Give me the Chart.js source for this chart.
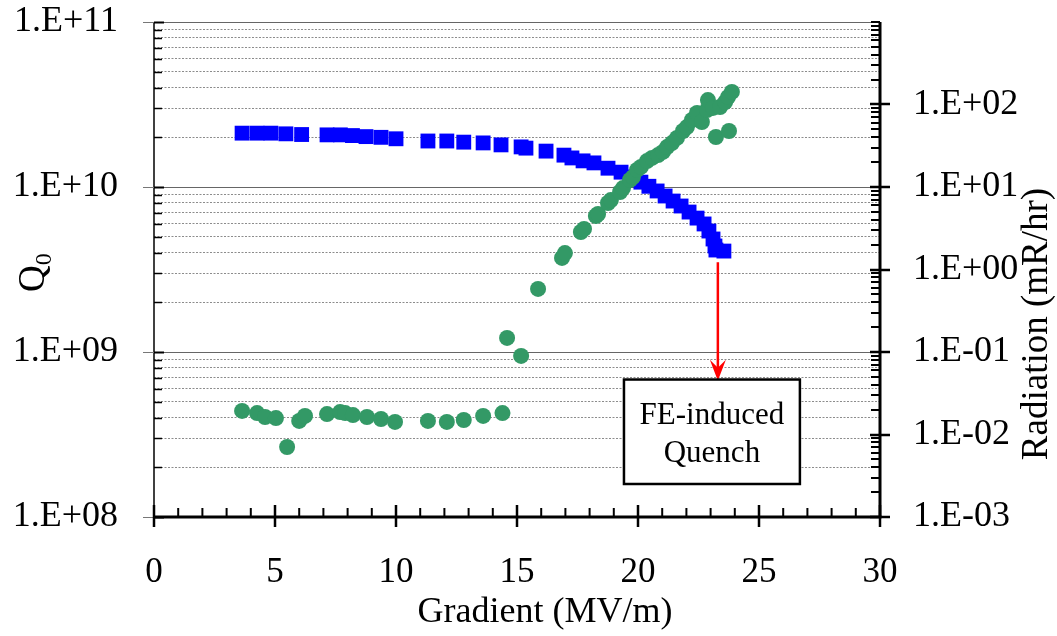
<!DOCTYPE html>
<html>
<head>
<meta charset="utf-8">
<script src="https://cdn.jsdelivr.net/npm/chart.js@4.4.1/dist/chart.umd.min.js"></script>
<style>
  html, body { margin: 0; padding: 0; background: #ffffff; }
  canvas { display: block; }
</style>
</head>
<body>
<canvas id="chart" width="1057" height="636"></canvas>
<script>
const SERIF = '"Liberation Serif", "Times New Roman", Times, serif';

// Unloaded quality factor versus accelerating gradient (MV/m)
const qGradient = [3.64, 4.26, 4.83, 5.45, 6.10, 7.15, 7.70, 8.20, 8.76, 9.38, 10.00,
  11.32, 12.10, 12.80, 13.60, 14.34, 15.17, 15.37, 16.20, 16.94, 17.27, 17.73, 18.18, 18.76,
  19.30, 19.71, 20.12, 20.45, 20.79, 21.12, 21.45, 21.78, 22.11, 22.44, 22.73, 22.93,
  23.10, 23.18, 23.22, 23.55];
const qValues = [2.12e10, 2.12e10, 2.12e10, 2.10e10, 2.08e10, 2.07e10, 2.07e10, 2.05e10, 2.02e10, 2.00e10, 1.96e10,
  1.90e10, 1.90e10, 1.87e10, 1.85e10, 1.80e10, 1.75e10, 1.72e10, 1.65e10, 1.56e10, 1.50e10, 1.44e10, 1.40e10, 1.30e10,
  1.23e10, 1.15e10, 1.07e10, 1.01e10, 9.46e9, 8.82e9, 8.22e9, 7.67e9, 7.05e9, 6.48e9, 5.97e9, 5.41e9,
  4.84e9, 4.39e9, 4.15e9, 4.09e9];

// X-ray radiation (mR/hr) versus accelerating gradient (MV/m)
const radGradient = [3.64, 4.26, 4.59, 5.04, 5.50, 6.00, 6.24, 7.15, 7.69, 7.90, 8.22, 8.80, 9.38, 9.96,
  11.32, 12.10, 12.80, 13.60, 14.40,
  14.59, 15.17, 15.87, 16.86, 16.98, 17.64, 17.77, 18.26, 18.35, 18.76, 18.88, 19.26, 19.38,
  19.67, 19.79, 19.96, 20.12, 20.37, 20.58, 20.83, 21.03, 21.20, 21.40, 21.61, 21.86, 22.02,
  22.23, 22.44, 22.64, 22.85, 22.89, 23.10, 23.22, 23.39, 23.60, 23.72, 23.76, 23.88];
const radValues = [0.0193, 0.0182, 0.0163, 0.0158, 0.00705, 0.0146, 0.0168, 0.0177, 0.0187, 0.0182, 0.0172, 0.0163, 0.0154, 0.0142,
  0.0146, 0.0142, 0.0150, 0.0168, 0.0182,
  0.148, 0.0896, 0.581, 1.38, 1.58, 2.85, 3.10, 4.45, 4.71, 6.40, 6.95, 8.7, 9.7,
  12.2, 13.2, 16.1, 17.5, 20.6, 22.5, 24.4, 26.6, 30.5, 34.1, 39.3, 47.7, 53.3,
  64.9, 78.9, 61.4, 85.7, 113, 90.8, 40.4, 93.3, 107, 123, 47.7, 142];

// Axis ticks
const gradientTicks = [0, 5, 10, 15, 20, 25, 30];
const qDecades = [8, 9, 10, 11];          // Q0 axis: 1E+08 .. 1E+11
const radDecades = [-3, -2, -1, 0, 1, 2]; // labelled radiation decades
const radRange = [-3, 3];                 // radiation axis spans 1E-03 .. 1E+03

// Callout for the field-emission quench
const calloutLines = ['FE-induced', 'Quench'];
const callout = {
  arrowX: 23.3, arrowFromQ: 3.5e9, arrowToQ: 6.7e8,
  boxX: [19.42, 26.69], boxQ: [6.81e8, 1.585e8]
};

const decadeLabel = (e) => '1.E' + (e < 0 ? '-' : '+') + String(Math.abs(e)).padStart(2, '0');
const exponentOf = (v) => {
  const e = Math.log10(v);
  return Math.abs(e - Math.round(e)) < 1e-9 ? Math.round(e) : null;
};
const logTicks = (lo, hi) => {
  const ticks = [];
  for (let e = lo; e < hi; e++) {
    for (let m = 1; m <= 9; m++) {
      ticks.push({ value: m * Math.pow(10, e), major: m === 1 });
    }
  }
  ticks.push({ value: Math.pow(10, hi), major: true });
  return ticks;
};

function line(ctx, x1, y1, x2, y2, w, color) {
  ctx.beginPath();
  ctx.lineWidth = w;
  ctx.strokeStyle = color;
  ctx.moveTo(x1, y1);
  ctx.lineTo(x2, y2);
  ctx.stroke();
}

// Fixed axis footprints so the plot area sits at 154..880 x 22..517
const fixVertical = (w) => (s) => { s.width = w; s.paddingTop = 0; s.paddingBottom = 0; };
const fixHorizontal = (h) => (s) => { s.height = h; s.paddingLeft = 0; s.paddingRight = 0; };

// Axis lines, inner/outer tick marks, axis titles and the quench callout
const decorations = {
  id: 'decorations',
  afterDraw(chart) {
    const ctx = chart.ctx;
    const ca = chart.chartArea;
    const sx = chart.scales.x, sq = chart.scales.yq, sr = chart.scales.yr;
    ctx.save();
    ctx.lineCap = 'butt';

    // left Q0 axis
    line(ctx, ca.left, ca.top, ca.left, ca.bottom, 1.5, '#000');
    sq.ticks.forEach(t => {
      const py = Math.round(sq.getPixelForValue(t.value)) + 0.5;
      if (exponentOf(t.value) !== null) {
        line(ctx, ca.left - 11, py, ca.left, py, 1, '#777');
        line(ctx, ca.left, py, ca.left + 10, py, 2, '#000');
      } else {
        line(ctx, ca.left, py, ca.left + 8, py, 1.5, '#000');
      }
    });

    // right radiation axis
    line(ctx, ca.right, ca.top, ca.right, ca.bottom, 3, '#000');
    sr.ticks.forEach(t => {
      const py = Math.round(sr.getPixelForValue(t.value));
      const e = exponentOf(t.value);
      if (e !== null && radDecades.includes(e)) {
        line(ctx, ca.right - 10, py, ca.right + 10, py, 2.5, '#000');
      } else {
        line(ctx, ca.right - 9, py, ca.right, py, 2, '#000');
      }
    });

    // bottom gradient axis
    line(ctx, ca.left, ca.bottom, ca.right + 1.5, ca.bottom, 3, '#000');
    sx.ticks.forEach(t => {
      const px = sx.getPixelForValue(t.value);
      if (gradientTicks.includes(t.value)) {
        line(ctx, px, ca.bottom - 12, px, ca.bottom + 10, 2.5, '#000');
      } else {
        line(ctx, px, ca.bottom - 9, px, ca.bottom, 2, '#000');
      }
    });

    // axis titles
    ctx.fillStyle = '#000';
    ctx.font = '36px ' + SERIF;
    ctx.textAlign = 'center';
    ctx.textBaseline = 'alphabetic';
    ctx.fillText('Gradient (MV/m)', 545, 622);

    ctx.save();
    ctx.translate(1047, 324);
    ctx.rotate(-Math.PI / 2);
    ctx.font = '37px ' + SERIF;
    ctx.fillText('Radiation (mR/hr)', 0, 0);
    ctx.restore();

    ctx.save();
    ctx.translate(44, 292);
    ctx.rotate(-Math.PI / 2);
    ctx.textAlign = 'left';
    ctx.font = '37px ' + SERIF;
    ctx.fillText('Q', 0, 0);
    const qw = ctx.measureText('Q').width;
    ctx.font = '24px ' + SERIF;
    ctx.fillText('0', qw, 7);
    ctx.restore();

    // quench callout: arrow
    const ax = sx.getPixelForValue(callout.arrowX);
    const ay1 = sq.getPixelForValue(callout.arrowFromQ);
    const ay2 = sq.getPixelForValue(callout.arrowToQ);
    line(ctx, ax, ay1, ax, ay2 - 10, 2.5, '#ff0000');
    ctx.beginPath();
    ctx.fillStyle = '#ff0000';
    ctx.moveTo(ax, ay2);
    ctx.lineTo(ax - 8, ay2 - 21);
    ctx.lineTo(ax, ay2 - 13);
    ctx.lineTo(ax + 8, ay2 - 21);
    ctx.closePath();
    ctx.fill();

    // quench callout: box and text
    const bx1 = sx.getPixelForValue(callout.boxX[0]);
    const bx2 = sx.getPixelForValue(callout.boxX[1]);
    const by1 = sq.getPixelForValue(callout.boxQ[0]);
    const by2 = sq.getPixelForValue(callout.boxQ[1]);
    ctx.fillStyle = '#fff';
    ctx.fillRect(bx1, by1, bx2 - bx1, by2 - by1);
    ctx.lineWidth = 2.5;
    ctx.strokeStyle = '#000';
    ctx.strokeRect(bx1, by1, bx2 - bx1, by2 - by1);
    ctx.fillStyle = '#000';
    ctx.font = '31px ' + SERIF;
    ctx.textAlign = 'center';
    const cx = (bx1 + bx2) / 2;
    ctx.fillText(calloutLines[0], cx, by1 + 44);
    ctx.fillText(calloutLines[1], cx, by1 + 82);

    ctx.restore();
  }
};

new Chart(document.getElementById('chart'), {
  type: 'scatter',
  data: {
    datasets: [
      {
        label: 'Radiation',
        yAxisID: 'yr',
        order: 0,
        data: radGradient.map((g, i) => ({ x: g, y: radValues[i] })),
        pointStyle: 'circle',
        pointRadius: 8,
        pointBorderWidth: 0,
        backgroundColor: '#339966',
        borderColor: '#339966'
      },
      {
        label: 'Q0',
        yAxisID: 'yq',
        order: 1,
        data: qGradient.map((g, i) => ({ x: g, y: qValues[i] })),
        pointStyle: 'rect',
        pointRadius: 10.5,
        pointBorderWidth: 0,
        backgroundColor: '#0000ff',
        borderColor: '#0000ff'
      }
    ]
  },
  options: {
    responsive: false,
    animation: false,
    devicePixelRatio: 1,
    layout: { padding: { top: 22, left: 0, right: 0, bottom: 0 } },
    plugins: { legend: { display: false }, tooltip: { enabled: false } },
    scales: {
      x: {
        type: 'linear',
        min: 0, max: 30,
        afterFit: fixHorizontal(119),
        grid: { display: false, drawTicks: false },
        border: { display: false },
        ticks: {
          stepSize: 1,
          autoSkip: false,
          maxRotation: 0,
          padding: 35,
          color: '#000',
          font: { family: SERIF, size: 35 },
          callback: (v) => gradientTicks.includes(v) ? String(v) : ''
        }
      },
      yq: {
        type: 'logarithmic',
        position: 'left',
        min: Math.pow(10, qDecades[0]),
        max: Math.pow(10, qDecades[qDecades.length - 1]),
        afterBuildTicks: (s) => { s.ticks = logTicks(qDecades[0], qDecades[qDecades.length - 1]); },
        afterFit: fixVertical(154),
        grid: {
          drawTicks: false,
          lineWidth: 1,
          color: (c) => (c.tick && exponentOf(c.tick.value) !== null) ? '#666666' : '#8c8c8c'
        },
        border: {
          display: false,
          dash: (c) => (c.tick && exponentOf(c.tick.value) === null) ? [2, 1.5] : []
        },
        ticks: {
          autoSkip: false,
          padding: 36,
          color: '#000',
          font: { family: SERIF, size: 36 },
          callback: (v) => {
            const e = exponentOf(v);
            return e !== null && qDecades.includes(e) ? decadeLabel(e) : '';
          }
        }
      },
      yr: {
        type: 'logarithmic',
        position: 'right',
        min: Math.pow(10, radRange[0]),
        max: Math.pow(10, radRange[1]),
        afterBuildTicks: (s) => { s.ticks = logTicks(radRange[0], radRange[1]); },
        afterFit: fixVertical(177),
        grid: { display: false, drawTicks: false, drawOnChartArea: false },
        border: { display: false },
        ticks: {
          autoSkip: false,
          padding: 33,
          color: '#000',
          font: { family: SERIF, size: 36 },
          callback: (v) => {
            const e = exponentOf(v);
            return e !== null && radDecades.includes(e) ? decadeLabel(e) : '';
          }
        }
      }
    }
  },
  plugins: [decorations]
});
</script>
</body>
</html>
